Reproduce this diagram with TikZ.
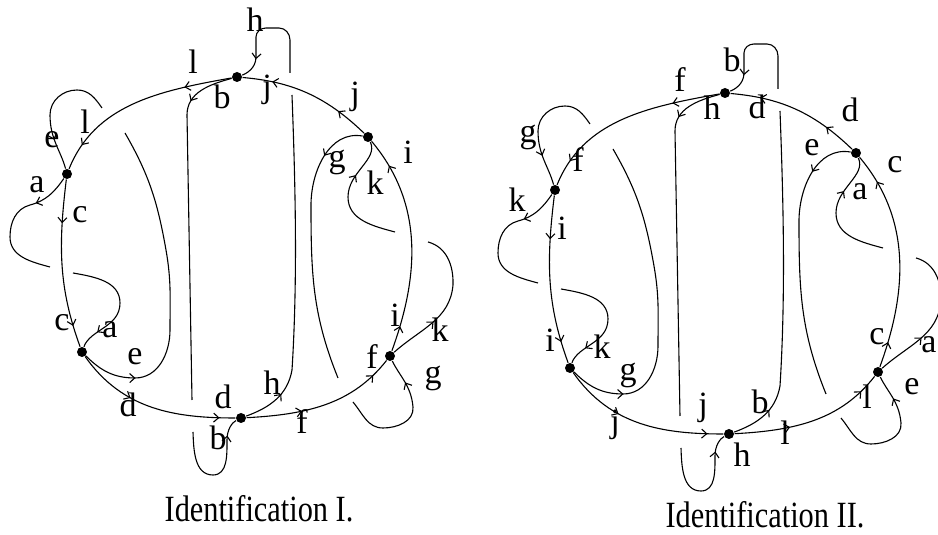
\documentclass[tikz,border=0pt]{standalone}
\usepackage{fontspec}
\setmainfont{Liberation Serif}
\usetikzlibrary{arrows.meta,decorations.markings}

\tikzset{
  dot/.style={circle,fill,inner sep=0pt,minimum size=10pt},
  lab/.style={font=\fontsize{34}{34}\selectfont,inner sep=0pt},
  capt/.style={font=\fontsize{37}{37}\selectfont,inner sep=0pt},
  barb/.tip={Straight Barb[length=5pt,width=9pt]},
  arr/.style 2 args={postaction={decorate,decoration={markings,
      mark=at position #1 with {\arrow{barb}},
      mark=at position #2 with {\arrow{barb}}}}},
  arrone/.style={postaction={decorate,decoration={markings,
      mark=at position #1 with {\arrow{barb}}}}},
  surface/.pic={
    % the six crossing points
    \node[dot] (-v1) at (237,458) {};
    \node[dot] (-v2) at (368,398) {};
    \node[dot] (-v3) at (67,361) {};
    \node[dot] (-v4) at (82,183) {};
    \node[dot] (-v5) at (241,117) {};
    \node[dot] (-v6) at (390,179) {};
    % ends at the under-crossings
    \coordinate (-b1) at (192,135);
    \coordinate (-b2) at (193,103);
    \coordinate (-h1) at (292,440);
    \coordinate (-h2) at (290,462);
    \coordinate (-g1) at (338,157);
    \coordinate (-g2) at (353,133);
    \coordinate (-k1) at (428,293);
    \coordinate (-k2) at (395,303);
    \coordinate (-e1) at (125,402);
    \coordinate (-e2) at (102,427);
    \coordinate (-a1) at (50,268);
    \coordinate (-a2) at (73,262);
    % the outer circle
    \draw[arr={48pt}{-27pt}] (-v1) to[out=190,in=68] (-v3);
    \draw[arr={44pt}{-22pt}] (-v3) to[out=-97,in=110] (-v4);
    \draw[arr={62pt}{-16pt}] (-v4) to[out=-55,in=180] (-v5);
    \draw[arr={56pt}{-20pt}] (-v5) to[out=3,in=232] (-v6);
    \draw[arr={26pt}{-30pt}] (-v6) to[out=70,in=-50] (-v2);
    \draw[arr={34pt}{-30pt}] (-v2) to[out=136,in=-5] (-v1);
    % strands passing under the circle
    \draw[arrone=48pt] (-v1) to[out=195,in=90] (187,420) -- (-b1);
    \draw[arrone=-18pt] (-b2) to[out=-88,in=180] (213,60) to[out=0,in=-90] (227,95) to[out=90,in=207] (-v5);
    \draw[arrone=42pt] (-v5) to[out=20,in=-100] (292,165) .. controls (298,260) and (295,360) .. (-h1);
    \draw[arrone=-22pt] (-h2) -- (290,495) to[out=90,in=0] (279,507) -- (266,507) to[out=180,in=90] (256,498) -- (256,478) to[out=-90,in=20] (-v1);
    \draw[arrone=46pt] (-v2) to[out=170,in=90] (311,330) to[out=-90,in=112] (-g1);
    \draw[arrone=-25pt] (-g2) to[out=-50,in=180] (383,107) to[out=0,in=-85] (413,128) to[out=95,in=-65] (-v6);
    \draw[arrone=50pt] (-v6) to[out=42,in=-95] (453,250) to[out=88,in=-15] (-k1);
    \draw[arrone=-38pt] (-k2) to[out=165,in=-90] (348,338) to[out=90,in=-65] (-v2);
    \draw[arrone=56pt] (-v4) to[out=-45,in=180] (135,157) to[out=0,in=-90] (170,205) to[out=90,in=-80] (166,285) to[out=100,in=-60] (-e1);
    \draw[arrone=-31pt] (-e2) to[out=125,in=0] (77,445) to[out=180,in=90] (50,420) to[out=-90,in=105] (-v3);
    \draw[arrone=38pt] (-v3) to[out=-125,in=15] (30,330) to[out=195,in=90] (10,298) to[out=-90,in=165] (-a1);
    \draw[arrone=-20pt] (-a2) to[out=-10,in=90] (120,232) to[out=-90,in=70] (-v4);
  }
}

\begin{document}
\begin{tikzpicture}[x=1pt,y=1pt,line width=1.1pt]
  \useasboundingbox (0,0) rectangle (938,535);

  \pic (L) at (0,0) {surface};
  \pic (R) at (488,-16) {surface};

  % Identification I
  \node[lab] (Ia1) at (37,350) {a};
  \node[lab] (Ia2) at (110,205) {a};
  \node[lab] (Ib1) at (222,438) {b};
  \node[lab] (Ib2) at (218,97) {b};
  \node[lab] (Ic1) at (80,320) {c};
  \node[lab] (Ic2) at (62,212) {c};
  \node[lab] (Id1) at (128,130) {d};
  \node[lab] (Id2) at (223,138) {d};
  \node[lab] (Ie1) at (52,395) {e};
  \node[lab] (Ie2) at (135,178) {e};
  \node[lab] (If1) at (302,113) {f};
  \node[lab] (If2) at (372,178) {f};
  \node[lab] (Ig1) at (337,373) {g};
  \node[lab] (Ig2) at (433,157) {g};
  \node[lab] (Ih1) at (255,515) {h};
  \node[lab] (Ih2) at (272,152) {h};
  \node[lab] (Ii1) at (408,383) {i};
  \node[lab] (Ii2) at (395,220) {i};
  \node[lab] (Ij1) at (267,445) {j};
  \node[lab] (Ij2) at (355,438) {j};
  \node[lab] (Ik1) at (375,352) {k};
  \node[lab] (Ik2) at (440,205) {k};
  \node[lab] (Il1) at (193,473) {l};
  \node[lab] (Il2) at (85,413) {l};
  \node[capt] (capI) at (259,26) {\scalebox{0.82}[1]{Identification I.}};

  % Identification II
  \node[lab] (IIa1) at (860,343) {a};
  \node[lab] (IIa2) at (929,190) {a};
  \node[lab] (IIb1) at (732,475) {b};
  \node[lab] (IIb2) at (760,133) {b};
  \node[lab] (IIc1) at (895,370) {c};
  \node[lab] (IIc2) at (877,198) {c};
  \node[lab] (IId1) at (757,428) {d};
  \node[lab] (IId2) at (850,425) {d};
  \node[lab] (IIe1) at (812,387) {e};
  \node[lab] (IIe2) at (912,148) {e};
  \node[lab] (IIf1) at (680,455) {f};
  \node[lab] (IIf2) at (578,375) {f};
  \node[lab] (IIg1) at (528,398) {g};
  \node[lab] (IIg2) at (628,160) {g};
  \node[lab] (IIh1) at (712,427) {h};
  \node[lab] (IIh2) at (742,80) {h};
  \node[lab] (IIi1) at (562,307) {i};
  \node[lab] (IIi2) at (550,195) {i};
  \node[lab] (IIj1) at (615,110) {j};
  \node[lab] (IIj2) at (703,127) {j};
  \node[lab] (IIk1) at (517,335) {k};
  \node[lab] (IIk2) at (602,188) {k};
  \node[lab] (IIl1) at (785,102) {l};
  \node[lab] (IIl2) at (867,138) {l};
  \node[capt] (capII) at (765,20) {\scalebox{0.82}[1]{Identification II.}};
\end{tikzpicture}
\end{document}
